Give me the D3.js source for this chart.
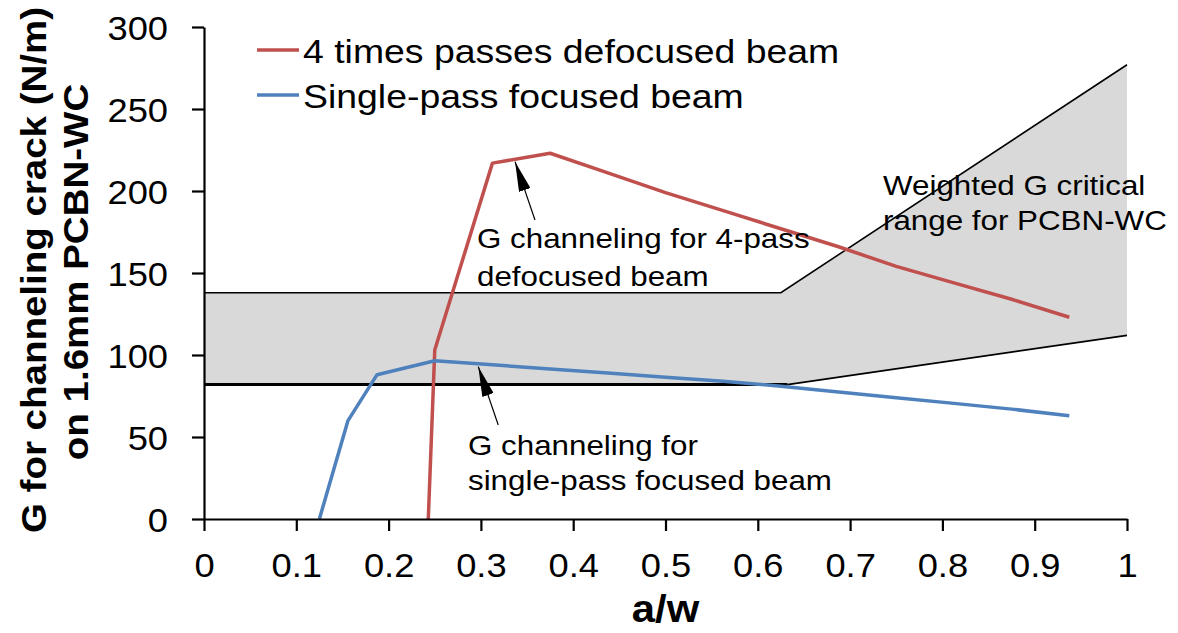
<!DOCTYPE html>
<html><head><meta charset="utf-8">
<script src="https://cdn.jsdelivr.net/npm/d3@7"></script>
<style>
html,body{margin:0;padding:0;background:#fff;}
svg{display:block;font-family:"Liberation Sans",Arial,sans-serif;}
</style></head>
<body><svg id="c" width="1178" height="633"></svg>
<script>
// ---- data ----
const redX  = [0.243, 0.25, 0.3125, 0.375, 0.4375, 0.5, 0.5625, 0.625, 0.6875, 0.75, 0.8125, 0.875, 0.9375];
const redY  = [0, 103, 217, 223, 211, 199, 188, 177, 166, 154, 144, 134, 123];
const blueX = [0.125, 0.156, 0.1875, 0.25, 0.3125, 0.375, 0.4375, 0.5, 0.5625, 0.625, 0.6875, 0.75, 0.8125, 0.875, 0.9375];
const blueY = [0, 60, 88, 96.5, 94, 91.5, 89, 86.5, 84, 81, 77.5, 74, 70.5, 67, 63];
const bandUpperX = [0, 0.625, 1];
const bandUpperY = [138, 138, 277];
const bandLowerX = [0, 0.632, 1];
const bandLowerY = [82, 82, 112];
const xTicks = [0, 0.1, 0.2, 0.3, 0.4, 0.5, 0.6, 0.7, 0.8, 0.9, 1];
const yTicks = [0, 50, 100, 150, 200, 250, 300];
const seriesNames = ["4 times passes defocused beam", "Single-pass focused beam"];
const colors = ["#c0504d", "#4f81bd"];
const xTitle = "a/w";
const yTitle = ["G for channeling crack (N/m)", "on 1.6mm PCBN-WC"];
// annotations (data units)
const arrow1 = {tail:[0.3586, 182.3], tip:[0.337, 217.9]};
const arrow2 = {tail:[0.3188, 57.3], tip:[0.2972, 92.9]};
const note1 = ["G channeling for 4-pass", "defocused beam"];
const note2 = ["G channeling for", "single-pass focused beam"];
const note3 = ["Weighted G critical", "range for PCBN-WC"];

// ---- layout ----
const svg = d3.select("#c");
const X0 = 204, X1 = 1127, Y0 = 519, Y1 = 27;
const x = d3.scaleLinear().domain([0,1]).range([X0,X1]);
const y = d3.scaleLinear().domain([0,300]).range([Y0,Y1]);
const SX = 1.1;

function txt(g, px, py, s, size, o={}) {
  const t = g.append("text")
    .attr("transform", `translate(${px},${py}) rotate(${o.rot||0}) scale(${SX},1)`)
    .attr("font-size", size)
    .attr("font-weight", o.bold ? "bold" : "normal")
    .attr("text-anchor", o.anchor || "start")
    .attr("fill", "#000")
    .text(s);
  return t;
}

// band
const upperPts = bandUpperX.map((d,i)=>[d, bandUpperY[i]]);
const lowerPts = bandLowerX.map((d,i)=>[d, bandLowerY[i]]);
const poly = upperPts.concat(lowerPts.slice().reverse());
svg.append("path")
  .attr("d", d3.line().x(d=>x(d[0])).y(d=>y(d[1]))(poly) + "Z")
  .attr("fill", "#d9d9d9").attr("stroke", "none");
const ln = d3.line().x(d=>x(d[0])).y(d=>y(d[1]));
svg.append("path").attr("d", ln(upperPts)).attr("fill","none").attr("stroke","#000").attr("stroke-width",1.6);
svg.append("path").attr("d", ln(lowerPts.slice(0,2))).attr("fill","none").attr("stroke","#000").attr("stroke-width",3);
svg.append("path").attr("d", ln(lowerPts.slice(1))).attr("fill","none").attr("stroke","#000").attr("stroke-width",1.8);

// series
const series = [redX.map((d,i)=>[d,redY[i]]), blueX.map((d,i)=>[d,blueY[i]])];
series.forEach((s,i)=>{
  svg.append("path").attr("d", ln(s)).attr("fill","none")
    .attr("stroke", colors[i]).attr("stroke-width",3.5).attr("stroke-linejoin","round");
});

// axes
const xa = svg.append("g").attr("transform",`translate(0,${Y0})`)
  .call(d3.axisBottom(x).tickValues(xTicks).tickSize(12).tickSizeOuter(0).tickFormat(d3.format("")));
const ya = svg.append("g").attr("transform",`translate(${X0},0)`)
  .call(d3.axisLeft(y).tickValues(yTicks).tickSize(12).tickSizeOuter(0));
[xa,ya].forEach(a=>{
  a.select(".domain").attr("stroke","#000").attr("stroke-width",2.2);
  a.selectAll(".tick line").attr("stroke","#000").attr("stroke-width",2.2);
  a.selectAll("text").remove();
});
xa.selectAll(".tick").each(function(d){
  txt(d3.select(this), 0, 58, d3.format("")(d), 33, {anchor:"middle"});
});
ya.selectAll(".tick").each(function(d){
  txt(d3.select(this), -36, 12, d, 33, {anchor:"end"});
});

// axis titles
txt(svg, (X0+X1)/2, 622, xTitle, 38, {anchor:"middle", bold:true});
txt(svg, 46, 270, yTitle[0], 35, {anchor:"middle", bold:true, rot:-90});
txt(svg, 88, 272, yTitle[1], 35, {anchor:"middle", bold:true, rot:-90});

// legend
seriesNames.forEach((n,i)=>{
  const ly = 50 + i*45;
  svg.append("line").attr("x1",257).attr("x2",299).attr("y1",ly).attr("y2",ly)
    .attr("stroke",colors[i]).attr("stroke-width",3.5);
  txt(svg, 303, ly+13, n, 34);
});

// annotations
svg.append("defs").append("marker").attr("id","ah")
  .attr("viewBox","0 0 30 12").attr("refX",30).attr("refY",6)
  .attr("markerWidth",30).attr("markerHeight",12)
  .attr("markerUnits","userSpaceOnUse").attr("orient","auto")
  .append("path").attr("d","M0,0L30,6L0,12Z").attr("fill","#000");
[arrow1, arrow2].forEach(a=>{
  svg.append("line")
    .attr("x1",x(a.tail[0])).attr("y1",y(a.tail[1]))
    .attr("x2",x(a.tip[0])).attr("y2",y(a.tip[1]))
    .attr("stroke","#000").attr("stroke-width",1.2).attr("marker-end","url(#ah)");
});
note1.forEach((s,i)=>txt(svg, 477, 248 + i*38, s, 28.5));
note2.forEach((s,i)=>txt(svg, 468, 455 + i*35, s, 28.5));
note3.forEach((s,i)=>txt(svg, 883, 195 + i*35, s, 28.5));
</script></body></html>
